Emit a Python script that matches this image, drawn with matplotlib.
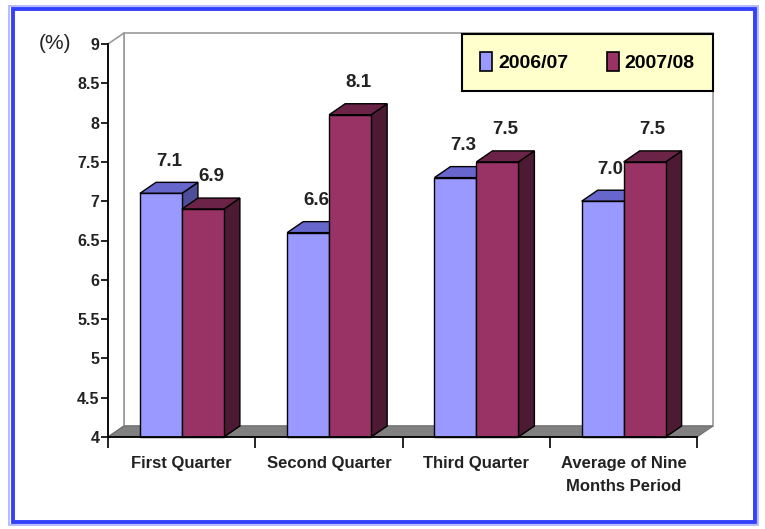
import matplotlib.pyplot as plt
from matplotlib.patches import Polygon, Rectangle, Patch

# Data
categories = ["First Quarter", "Second Quarter", "Third Quarter",
              "Average of Nine\nMonths Period"]
series_names = ["2006/07", "2007/08"]
values_0607 = [7.1, 6.6, 7.3, 7.0]
values_0708 = [6.9, 8.1, 7.5, 7.5]
labels_0607 = ["7.1", "6.6", "7.3", "7.0"]
labels_0708 = ["6.9", "8.1", "7.5", "7.5"]
yticks = [4, 4.5, 5, 5.5, 6, 6.5, 7, 7.5, 8, 8.5, 9]

plt.rcParams['font.family'] = ['Liberation Sans', 'DejaVu Sans']

W, H = 765, 529
fig = plt.figure(figsize=(W / 100, H / 100), dpi=100)
fig.patch.set_facecolor("white")

# frame around the whole chart
fig.add_artist(Rectangle((9 / W, 4 / H), 749 / W, 519 / H, transform=fig.transFigure,
                         fill=False, edgecolor="#aab0ff", lw=1.2))
fig.add_artist(Rectangle((13 / W, 7 / H), 742 / W, 513 / H, transform=fig.transFigure,
                         fill=False, edgecolor="#3341ff", lw=2.8))

ax = fig.add_axes([108 / W, 92 / H, 589 / W, 393 / H])
ax.set_xlim(0, 4)
ax.set_ylim(4, 9)
ax.patch.set_visible(False)

# depth offsets in data units
dx = 16 / 147.25
dy = 11 / 78.6
base = 4

wall = "#9a9a9a"
# back wall, left wall, floor
ax.add_patch(Polygon([(dx, base + dy), (4 + dx, base + dy), (4 + dx, 9 + dy), (dx, 9 + dy)],
                     closed=True, facecolor="white", edgecolor=wall, lw=1.2, clip_on=False, zorder=1))
ax.add_patch(Polygon([(0, base), (dx, base + dy), (dx, 9 + dy), (0, 9)],
                     closed=True, facecolor="white", edgecolor=wall, lw=1.2, clip_on=False, zorder=1))
ax.add_patch(Polygon([(0, base), (4, base), (4 + dx, base + dy), (dx, base + dy)],
                     closed=True, facecolor="#808080", edgecolor="#707070", lw=0.8, clip_on=False, zorder=1.5))

styles = [
    dict(front="#9999ff", top="#6666cc", side="#4d4d99"),
    dict(front="#993366", top="#6b2447", side="#4d1a33"),
]
bar_w = 0.285
offset = 0.217
txt = "#222222"


def draw_bar(x0, v, st, label):
    x1 = x0 + bar_w
    ax.add_patch(Polygon([(x1, base), (x1 + dx, base + dy), (x1 + dx, v + dy), (x1, v)],
                         closed=True, facecolor=st["side"], edgecolor="black", lw=1.0,
                         clip_on=False, zorder=2))
    ax.add_patch(Polygon([(x0, v), (x0 + dx, v + dy), (x1 + dx, v + dy), (x1, v)],
                         closed=True, facecolor=st["top"], edgecolor="black", lw=1.0,
                         clip_on=False, zorder=2))
    ax.add_patch(Polygon([(x0, base), (x1, base), (x1, v), (x0, v)],
                         closed=True, facecolor=st["front"], edgecolor="black", lw=1.0,
                         clip_on=False, zorder=2))
    ax.text((x0 + x1) / 2 + dx / 2, v + dy + 0.16, label, ha="center", va="bottom",
            fontsize=13.5, fontweight="bold", color=txt, zorder=3)


for i in range(len(categories)):
    draw_bar(i + offset, values_0607[i], styles[0], labels_0607[i])
    draw_bar(i + offset + bar_w, values_0708[i], styles[1], labels_0708[i])

# axes
for s in ["top", "right"]:
    ax.spines[s].set_visible(False)
for s in ["left", "bottom"]:
    ax.spines[s].set_color("black")
    ax.spines[s].set_linewidth(1.3)
    ax.spines[s].set_zorder(4)

ax.set_yticks(yticks)
ax.set_yticklabels([f"{t:g}" for t in yticks])
ax.tick_params(axis="y", direction="out", length=5, width=1.2, pad=1, labelsize=11.5)
for t in ax.get_yticklabels():
    t.set_fontweight("bold")
    t.set_color(txt)

ax.set_xticks([i + 0.5 for i in range(len(categories))])
ax.set_xticklabels(categories, fontsize=12, fontweight="bold", color=txt, linespacing=1.6)
ax.set_xticks(range(len(categories) + 1), minor=True)
ax.tick_params(axis="x", which="major", length=0, pad=14)
ax.tick_params(axis="x", which="minor", direction="out", length=8, width=1.2)

ax.text(-0.25, 9.0, "(%)", ha="right", va="center", fontsize=15, color=txt,
        transform=ax.transData)

handles = [Patch(facecolor=styles[0]["front"], edgecolor="black", lw=1.2),
           Patch(facecolor=styles[1]["front"], edgecolor="black", lw=1.2)]
leg = ax.legend(handles, series_names, loc="upper right", ncol=2,
                bbox_to_anchor=(713 / W, 1 - 34 / H), bbox_transform=fig.transFigure,
                fancybox=False, framealpha=1, facecolor="#ffffcc", edgecolor="black",
                prop=dict(size=14, weight="bold"), handlelength=0.6, handleheight=1.1,
                handletextpad=0.3, columnspacing=2.0, borderpad=0.95, borderaxespad=0)
leg.get_frame().set_linewidth(1.5)
leg.set_zorder(5)

fig.savefig("out.png", dpi=100)
